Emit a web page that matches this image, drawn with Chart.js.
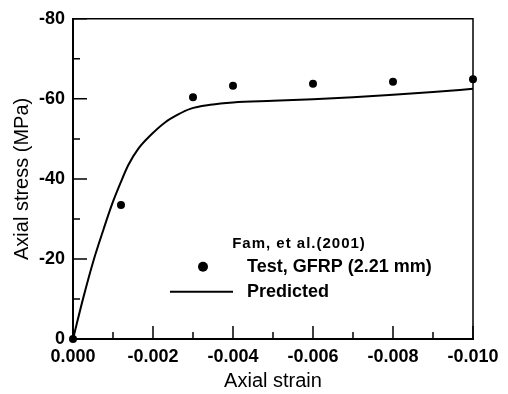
<!DOCTYPE html>
<html>
<head>
<meta charset="utf-8">
<script src="https://cdn.jsdelivr.net/npm/chart.js@4"></script>
<style>
  html, body { margin: 0; padding: 0; background: #fff; }
  #wrap { width: 508px; height: 394px; }
</style>
</head>
<body>
<div id="wrap"><canvas id="fig"></canvas></div>
<script>
// measured points (Fam et al. 2001)
const testStrain = [0, -0.0012, -0.003, -0.004, -0.006, -0.008, -0.010];
const testStress = [0, -33.5, -60.4, -63.3, -63.8, -64.3, -64.9];

// predicted curve
const predStrain = [0, -0.00026, -0.00051, -0.00076, -0.00097, -0.00118, -0.00138, -0.00163, -0.00197, -0.0023, -0.00263, -0.00293, -0.00343, -0.004, -0.005, -0.006, -0.007, -0.008, -0.009, -0.010];
const predStress = [0, -10.4, -19.5, -27.3, -33.5, -38.8, -43.4, -47.5, -51.2, -54.1, -56.1, -57.5, -58.5, -59.1, -59.5, -59.9, -60.4, -61.0, -61.7, -62.5];

const xTicks = [0, -0.002, -0.004, -0.006, -0.008, -0.010];
const xMinor = [-0.001, -0.003, -0.005, -0.007, -0.009];
const yTicks = [0, -20, -40, -60, -80];
const yMinor = [-10, -30, -50, -70];

const legendTitle = 'Fam, et al.(2001)';
const legendTest = 'Test, GFRP (2.21 mm)';
const legendPred = 'Predicted';

const FONT = '"Liberation Sans", Arial, sans-serif';

function toXY(xs, ys) {
  return xs.map((x, i) => ({ x: x, y: ys[i] }));
}

// frame, inward ticks and the legend box
const decor = {
  id: 'decor',
  afterDraw(chart) {
    const c = chart.ctx;
    const a = chart.chartArea;
    const xs = chart.scales.x, ys = chart.scales.y;
    c.save();
    c.strokeStyle = '#000';
    c.lineWidth = 1.5;
    c.beginPath();
    c.moveTo(a.left, a.top); c.lineTo(a.right, a.top); c.lineTo(a.right, a.bottom);
    c.stroke();

    c.beginPath();
    xTicks.forEach(v => { const px = xs.getPixelForValue(v); c.moveTo(px, a.bottom); c.lineTo(px, a.bottom - 13); });
    xMinor.forEach(v => { const px = xs.getPixelForValue(v); c.moveTo(px, a.bottom); c.lineTo(px, a.bottom - 7); });
    yTicks.forEach(v => { const py = ys.getPixelForValue(v); c.moveTo(a.left, py); c.lineTo(a.left + 14, py); });
    yMinor.forEach(v => { const py = ys.getPixelForValue(v); c.moveTo(a.left, py); c.lineTo(a.left + 7, py); });
    c.stroke();

    // legend
    c.fillStyle = '#000';
    c.textBaseline = 'middle';
    c.textAlign = 'center';
    c.font = 'bold 15px ' + FONT;
    c.letterSpacing = '1px';
    c.fillText(legendTitle, a.left + 226, a.top + 225);
    c.letterSpacing = '0px';
    c.textAlign = 'left';
    c.font = 'bold 18px ' + FONT;
    c.fillText(legendTest, a.left + 174, a.top + 248);
    c.fillText(legendPred, a.left + 174, a.top + 273);
    c.beginPath();
    c.arc(a.left + 130, a.top + 248, 5, 0, Math.PI * 2);
    c.fill();
    c.lineWidth = 2;
    c.beginPath();
    c.moveTo(a.left + 97, a.top + 273); c.lineTo(a.left + 160, a.top + 273);
    c.stroke();
    c.restore();
  }
};

new Chart(document.getElementById('fig'), {
  type: 'scatter',
  data: {
    datasets: [
      {
        label: legendPred,
        data: toXY(predStrain, predStress),
        showLine: true,
        borderColor: '#000',
        borderWidth: 2,
        pointRadius: 0,
        cubicInterpolationMode: 'monotone',
        clip: false
      },
      {
        label: legendTest,
        data: toXY(testStrain, testStress),
        showLine: false,
        backgroundColor: '#000',
        borderColor: '#000',
        pointRadius: 4,
        pointBorderWidth: 0,
        clip: false
      }
    ]
  },
  options: {
    responsive: true,
    maintainAspectRatio: false,
    animation: false,
    layout: { padding: { left: 0, right: 35, top: 15, bottom: 0 } },
    plugins: { legend: { display: false }, tooltip: { enabled: false } },
    scales: {
      x: {
        type: 'linear',
        min: -0.010,
        max: 0,
        reverse: true,
        afterFit: s => { s.height = 55; },
        grid: { display: false, drawTicks: false },
        border: { display: true, color: '#000', width: 2 },
        ticks: {
          stepSize: 0.002,
          autoSkip: false,
          maxRotation: 0,
          padding: 7,
          color: '#000',
          font: { family: FONT, size: 18, weight: 'bold' },
          callback: v => (Math.abs(v) < 1e-9 ? 0 : v).toFixed(3)
        },
        title: {
          display: true,
          text: 'Axial strain',
          color: '#000',
          font: { family: FONT, size: 20 },
          padding: { top: 0, bottom: 1 }
        }
      },
      y: {
        type: 'linear',
        min: -80,
        max: 0,
        reverse: true,
        afterFit: s => { s.width = 73; },
        grid: { display: false, drawTicks: false },
        border: { display: true, color: '#000', width: 2 },
        ticks: {
          stepSize: 20,
          padding: 8,
          color: '#000',
          font: { family: FONT, size: 18, weight: 'bold' },
          callback: v => String(v)
        },
        title: {
          display: true,
          text: 'Axial stress (MPa)',
          color: '#000',
          font: { family: FONT, size: 20 },
          padding: { top: 10, bottom: 0 }
        }
      }
    }
  },
  plugins: [decor]
});
</script>
</body>
</html>
